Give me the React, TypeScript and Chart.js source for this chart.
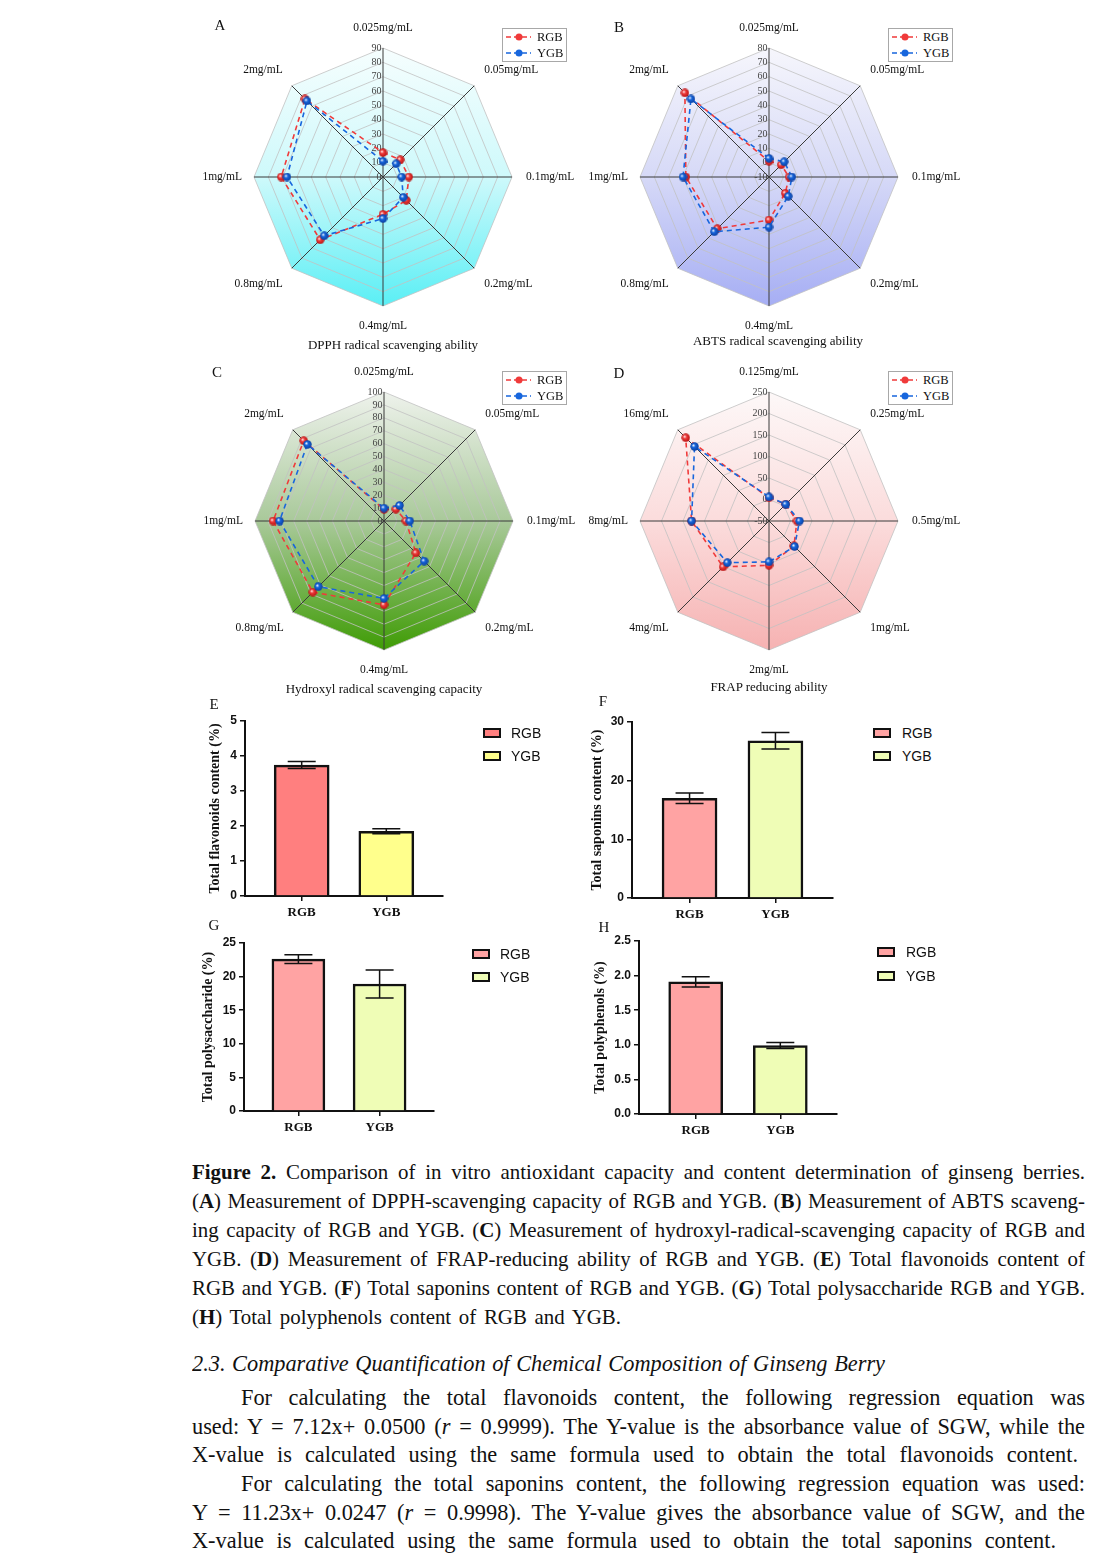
import React, { useEffect, useRef } from 'react';
import { Chart, registerables } from 'chart.js';

Chart.register(...registerables);

const SERIF = '"Liberation Serif", "Times New Roman", serif';
const SANS = '"Liberation Sans", Arial, sans-serif';

// ---------- radar data ----------
const SERIES = ['RGB', 'YGB'];
const CONC_LABELS = ['0.025mg/mL', '0.05mg/mL', '0.1mg/mL', '0.2mg/mL', '0.4mg/mL', '0.8mg/mL', '1mg/mL', '2mg/mL'];
const FRAP_LABELS = ['0.125mg/mL', '0.25mg/mL', '0.5mg/mL', '1mg/mL', '2mg/mL', '4mg/mL', '8mg/mL', '16mg/mL'];

const DPPH_RGB = [17, 17, 18, 23, 26, 62, 71, 77];
const DPPH_YGB = [11, 13, 13, 20, 29, 58, 67, 75];
const ABTS_RGB = [1, 2, 4, 6, 20, 41, 48, 73];
const ABTS_YGB = [3, 5, 6, 9, 25, 44, 50, 67];
const OH_RGB = [9, 13, 17, 35, 65, 78, 86, 88];
const OH_YGB = [10, 17, 20, 44, 60, 72, 81, 84];
const FRAP_RGB = [4, 5, 15, 32, 53, 101, 130, 224];
const FRAP_YGB = [6, 5, 21, 34, 45, 87, 130, 195];

// ---------- bar data ----------
const BAR_CATEGORIES = ['RGB', 'YGB'];
const FLAVONOIDS = [3.74, 1.85];
const FLAVONOIDS_ERR = [0.1, 0.07];
const SAPONINS = [17.0, 26.8];
const SAPONINS_ERR = [0.9, 1.4];
const POLYSACCHARIDE = [22.6, 18.9];
const POLYSACCHARIDE_ERR = [0.65, 2.1];
const POLYPHENOLS = [1.91, 0.99];
const POLYPHENOLS_ERR = [0.075, 0.045];

const RED = '#f03a3a';
const BLUE = '#1766dd';

function ball(color: string, dark: string) {
  const c = document.createElement('canvas');
  c.width = 9;
  c.height = 9;
  const x = c.getContext('2d')!;
  const g = x.createRadialGradient(3.2, 3.2, 0.2, 4.5, 4.5, 4.6);
  g.addColorStop(0, '#ffffff');
  g.addColorStop(0.35, color);
  g.addColorStop(1, dark);
  x.fillStyle = g;
  x.beginPath();
  x.arc(4.5, 4.5, 4.2, 0, Math.PI * 2);
  x.fill();
  return c;
}

const radarDecor = {
  id: 'radarDecor',
  beforeDraw(chart: any, _a: any, opts: any) {
    const s = chart.scales.r;
    const ctx = chart.ctx;
    const n = chart.data.labels.length;
    const R = s.drawingArea;
    ctx.save();
    ctx.beginPath();
    for (let i = 0; i < n; i++) {
      const p = s.getPointPosition(i, R);
      if (i === 0) ctx.moveTo(p.x, p.y);
      else ctx.lineTo(p.x, p.y);
    }
    ctx.closePath();
    const g = ctx.createLinearGradient(0, s.yCenter - R, 0, s.yCenter + R);
    g.addColorStop(0, opts.top);
    g.addColorStop(0.5, opts.mid);
    g.addColorStop(1, opts.bottom);
    ctx.fillStyle = g;
    ctx.fill();
    ctx.restore();
  },
  beforeDatasetsDraw(chart: any) {
    const s = chart.scales.r;
    const ctx = chart.ctx;
    ctx.save();
    ctx.font = `10px ${SERIF}`;
    ctx.fillStyle = '#444';
    ctx.textAlign = 'right';
    ctx.textBaseline = 'middle';
    s.ticks.forEach((t: any) => {
      const d = s.getDistanceFromCenterForValue(t.value);
      ctx.fillText(String(t.value), s.xCenter - 1.5, s.yCenter - d);
    });
    ctx.restore();
  },
  afterDraw(chart: any) {
    const s = chart.scales.r;
    const ctx = chart.ctx;
    const R = s.drawingArea;
    ctx.save();
    ctx.font = `11.5px ${SERIF}`;
    ctx.fillStyle = '#111';
    ctx.textBaseline = 'middle';
    chart.data.labels.forEach((lab: string, i: number) => {
      const v = s.getPointPosition(i, R);
      const dx = v.x - s.xCenter;
      const dy = v.y - s.yCenter;
      let x = v.x;
      let y = v.y;
      if (Math.abs(dx) < 1) {
        ctx.textAlign = 'center';
        y = v.y + (dy < 0 ? -20 : 20);
      } else if (Math.abs(dy) < 1) {
        ctx.textAlign = dx > 0 ? 'left' : 'right';
        x = v.x + (dx > 0 ? 14 : -12);
      } else {
        ctx.textAlign = dx > 0 ? 'left' : 'right';
        x = v.x + (dx > 0 ? 10 : -9);
        y = v.y + (dy < 0 ? -16 : 16);
      }
      ctx.fillText(lab, x, y);
    });
    ctx.restore();
  },
};

type RadarProps = {
  labels: string[];
  rgb: number[];
  ygb: number[];
  min: number;
  max: number;
  step: number;
  top: string;
  mid: string;
  bottom: string;
  box: number[];
  cx: number;
  cy: number;
  R: number;
};

function RadarPanel(p: RadarProps) {
  const ref = useRef<HTMLCanvasElement>(null);
  const [bx, by, bw, bh] = p.box;
  useEffect(() => {
    const mk = (label: string, data: number[], color: string, dark: string, order: number) => ({
      label,
      data,
      borderColor: color,
      backgroundColor: color,
      borderWidth: 1.6,
      borderDash: [5, 4],
      fill: false,
      pointStyle: ball(color, dark) as any,
      pointRadius: 4.5,
      order,
    });
    const chart = new Chart(ref.current!, {
      type: 'radar',
      data: {
        labels: p.labels,
        datasets: [mk(SERIES[0], p.rgb, RED, '#b01010', 1), mk(SERIES[1], p.ygb, BLUE, '#0a3c9a', 0)],
      },
      options: {
        responsive: false,
        animation: false,
        devicePixelRatio: 1,
        layout: {
          padding: {
            left: p.cx - p.R - bx,
            top: p.cy - p.R - by,
            right: bx + bw - p.cx - p.R,
            bottom: by + bh - p.cy - p.R,
          },
        },
        plugins: {
          legend: { display: false },
          tooltip: { enabled: false },
          radarDecor: { top: p.top, mid: p.mid, bottom: p.bottom },
        } as any,
        scales: {
          r: {
            min: p.min,
            max: p.max,
            ticks: { display: false, stepSize: p.step },
            pointLabels: { display: false },
            grid: { color: '#c2c2c2', lineWidth: 0.8 },
            angleLines: { color: '#3a3a3a', lineWidth: 1 },
          },
        },
      },
      plugins: [radarDecor],
    });
    return () => chart.destroy();
  }, []);
  return (
    <canvas
      ref={ref}
      width={bw}
      height={bh}
      style={{ position: 'absolute', left: bx, top: by, width: bw, height: bh }}
    />
  );
}

const errBars = {
  id: 'errBars',
  afterDatasetsDraw(chart: any, _a: any, opts: any) {
    const ctx = chart.ctx;
    const ys = chart.scales.y;
    const meta = chart.getDatasetMeta(0);
    const ds = chart.data.datasets[0].data;
    ctx.save();
    ctx.strokeStyle = '#111';
    ctx.lineWidth = 1.5;
    meta.data.forEach((el: any, i: number) => {
      const v = ds[i].y;
      const e = opts.errs[i];
      const yt = ys.getPixelForValue(v + e);
      const yb = ys.getPixelForValue(v - e);
      const x = el.x;
      ctx.beginPath();
      ctx.moveTo(x, yt);
      ctx.lineTo(x, yb);
      ctx.moveTo(x - 14, yt);
      ctx.lineTo(x + 14, yt);
      ctx.moveTo(x - 14, yb);
      ctx.lineTo(x + 14, yb);
      ctx.stroke();
    });
    ctx.restore();
  },
};

type BarProps = {
  values: number[];
  errs: number[];
  colors: string[];
  yMax: number;
  yStep: number;
  decimals: number;
  title: string;
  axisX: number;
  y0: number;
  yTop: number;
  xRight: number;
  titleX: number;
  barW: number;
};

function BarPanel(p: BarProps) {
  const ref = useRef<HTMLCanvasElement>(null);
  const left = p.axisX - 50;
  const top = p.yTop - 16;
  const width = p.xRight + 12 - left;
  const height = p.y0 + 29 - top;
  useEffect(() => {
    const axGrid = { drawOnChartArea: false, drawTicks: true, tickLength: 5, color: '#111', lineWidth: 1.5, offset: false };
    const axBorder = { display: true, color: '#111', width: 2 };
    const chart = new Chart(ref.current!, {
      type: 'bar',
      data: {
        datasets: [
          {
            data: p.values.map((v, i) => ({ x: i, y: v })) as any,
            backgroundColor: p.colors,
            borderColor: '#111',
            borderWidth: 2.5,
            barThickness: p.barW,
          },
        ],
      },
      options: {
        responsive: false,
        animation: false,
        devicePixelRatio: 1,
        layout: { padding: { left: 0, top: 16, right: 12, bottom: 0 } },
        plugins: {
          legend: { display: false },
          tooltip: { enabled: false },
          errBars: { errs: p.errs },
        } as any,
        scales: {
          x: {
            type: 'linear',
            min: -0.67,
            max: 1.67,
            bounds: 'data',
            offset: false,
            afterBuildTicks: (ax: any) => {
              ax.ticks = BAR_CATEGORIES.map((_, i) => ({ value: i }));
            },
            afterFit: (ax: any) => {
              ax.height = 29;
            },
            ticks: {
              callback: (v: any) => BAR_CATEGORIES[Number(v)] ?? '',
              font: { family: SERIF, weight: 'bold', size: 13 },
              color: '#111',
              padding: 4,
              autoSkip: false,
              maxRotation: 0,
            },
            grid: axGrid,
            border: axBorder,
          } as any,
          y: {
            min: 0,
            max: p.yMax,
            ticks: {
              stepSize: p.yStep,
              callback: (v: any) => Number(v).toFixed(p.decimals),
              font: { family: SANS, weight: 'bold', size: 12 },
              color: '#111',
              padding: 3,
            },
            afterFit: (ax: any) => {
              ax.width = 50;
            },
            grid: axGrid,
            border: axBorder,
            title: {
              display: true,
              text: p.title,
              font: { family: SERIF, weight: 'bold', size: 14 },
              color: '#111',
              padding: { top: p.titleX - left - 8.4, bottom: 0 },
            },
          } as any,
        },
      },
      plugins: [errBars],
    });
    return () => chart.destroy();
  }, []);
  return (
    <canvas
      ref={ref}
      width={width}
      height={height}
      style={{ position: 'absolute', left, top, width, height }}
    />
  );
}

function PanelLetter(p: { x: number; y: number; t: string }) {
  return (
    <div style={{ position: 'absolute', left: p.x - 10, top: p.y - 10, width: 20, textAlign: 'center', fontFamily: SERIF, fontSize: 15, lineHeight: '20px', color: '#111' }}>
      {p.t}
    </div>
  );
}

function CenterText(p: { cx: number; cy: number; t: string; size: number }) {
  return (
    <div style={{ position: 'absolute', left: p.cx - 250, top: p.cy - p.size * 0.6, width: 500, textAlign: 'center', fontFamily: SERIF, fontSize: p.size, lineHeight: `${p.size * 1.2}px`, color: '#111' }}>
      {p.t}
    </div>
  );
}

function RadarLegend(p: { x: number; y: number }) {
  const rows = [
    { name: SERIES[0], color: RED },
    { name: SERIES[1], color: BLUE },
  ];
  return (
    <div style={{ position: 'absolute', left: p.x, top: p.y, width: 63, height: 32, border: '1px solid #a8a8a8', background: '#fff' }}>
      {rows.map((r, i) => (
        <div key={r.name} style={{ position: 'absolute', left: 0, top: 1 + i * 16, height: 14, width: 63 }}>
          <svg width={28} height={14} style={{ position: 'absolute', left: 2, top: 0 }}>
            <line x1={1} y1={7} x2={26} y2={7} stroke={r.color} strokeWidth={1.4} strokeDasharray="5,3" />
            <circle cx={14} cy={7} r={3.5} fill={r.color} />
          </svg>
          <span style={{ position: 'absolute', left: 34, top: 0, fontFamily: SERIF, fontSize: 12.5, lineHeight: '14px', color: '#111' }}>{r.name}</span>
        </div>
      ))}
    </div>
  );
}

function BarLegend(p: { x: number; y1: number; y2: number; textX: number; colors: string[] }) {
  return (
    <>
      {BAR_CATEGORIES.map((c, i) => {
        const y = i === 0 ? p.y1 : p.y2;
        return (
          <React.Fragment key={c}>
            <div style={{ position: 'absolute', left: p.x, top: y - 5, width: 18, height: 10, boxSizing: 'border-box', border: '2.5px solid #111', background: p.colors[i] }} />
            <div style={{ position: 'absolute', left: p.textX, top: y - 9, fontFamily: SANS, fontSize: 14, lineHeight: '18px', color: '#111' }}>{c}</div>
          </React.Fragment>
        );
      })}
    </>
  );
}

function TextLine(p: { x: number; y: number; w: number; size: number; italic?: boolean; children: any }) {
  const sc = 0.95;
  return (
    <div
      style={{
        position: 'absolute',
        left: p.x,
        top: p.y - p.size * 0.62,
        width: p.w / sc,
        transform: `scaleX(${sc})`,
        transformOrigin: '0 0',
        fontFamily: SERIF,
        fontSize: p.size,
        lineHeight: `${p.size * 1.2}px`,
        fontStyle: p.italic ? 'italic' : 'normal',
        textAlign: 'justify',
        textAlignLast: 'justify',
        color: '#111',
      }}
    >
      {p.children}
    </div>
  );
}

const BAR_COLORS_E = ['#ff7f7f', '#ffff8c'];
const BAR_COLORS = ['#ffa3a3', '#effdb6'];

export default function App() {
  return (
    <div style={{ position: 'absolute', left: 0, top: 0, width: 1104, height: 1560, background: '#fff', overflow: 'hidden' }}>
      {/* radar charts */}
      <RadarPanel labels={CONC_LABELS} rgb={DPPH_RGB} ygb={DPPH_YGB} min={0} max={90} step={10} top="#f6fefe" mid="#cef9fb" bottom="#5aeff5" box={[190, 15, 390, 335]} cx={383} cy={177} R={129} />
      <RadarPanel labels={CONC_LABELS} rgb={ABTS_RGB} ygb={ABTS_YGB} min={-10} max={80} step={10} top="#f6f6fc" mid="#d6d9f7" bottom="#a6aef4" box={[585, 15, 390, 335]} cx={769} cy={177} R={129} />
      <RadarPanel labels={CONC_LABELS} rgb={OH_RGB} ygb={OH_YGB} min={0} max={100} step={10} top="#eef2ec" mid="#a9c99a" bottom="#3f9c05" box={[190, 358, 390, 340]} cx={384} cy={521} R={129} />
      <RadarPanel labels={FRAP_LABELS} rgb={FRAP_RGB} ygb={FRAP_YGB} min={-50} max={250} step={50} top="#fdf8f8" mid="#fbdcdc" bottom="#f6b2b2" box={[585, 358, 390, 340]} cx={769} cy={521} R={129} />

      <PanelLetter x={220} y={25} t="A" />
      <PanelLetter x={619} y={27} t="B" />
      <PanelLetter x={217} y={372} t="C" />
      <PanelLetter x={619} y={373} t="D" />

      <CenterText cx={393} cy={345} t="DPPH radical scavenging ability" size={13} />
      <CenterText cx={778} cy={341} t="ABTS radical scavenging ability" size={13} />
      <CenterText cx={384} cy={689} t="Hydroxyl radical scavenging capacity" size={13} />
      <CenterText cx={769} cy={687} t="FRAP reducing ability" size={13} />

      <RadarLegend x={502} y={28} />
      <RadarLegend x={888} y={28} />
      <RadarLegend x={502} y={371} />
      <RadarLegend x={888} y={371} />

      {/* bar charts */}
      <BarPanel values={FLAVONOIDS} errs={FLAVONOIDS_ERR} colors={BAR_COLORS_E} yMax={5} yStep={1} decimals={0} title="Total flavonoids content (%)" axisX={245} y0={896} yTop={721} xRight={443} titleX={215} barW={55} />
      <BarPanel values={SAPONINS} errs={SAPONINS_ERR} colors={BAR_COLORS} yMax={30} yStep={10} decimals={0} title="Total saponins content (%)" axisX={632} y0={898} yTop={722} xRight={833} titleX={597} barW={55} />
      <BarPanel values={POLYSACCHARIDE} errs={POLYSACCHARIDE_ERR} colors={BAR_COLORS} yMax={25} yStep={5} decimals={0} title="Total polysaccharide (%)" axisX={244} y0={1111} yTop={943} xRight={434} titleX={208} barW={53} />
      <BarPanel values={POLYPHENOLS} errs={POLYPHENOLS_ERR} colors={BAR_COLORS} yMax={2.5} yStep={0.5} decimals={1} title="Total polyphenols (%)" axisX={639} y0={1114} yTop={941} xRight={837} titleX={600} barW={54} />

      <PanelLetter x={214} y={704} t="E" />
      <PanelLetter x={603} y={701} t="F" />
      <PanelLetter x={214} y={925} t="G" />
      <PanelLetter x={604} y={927} t="H" />

      <BarLegend x={483} y1={733} y2={756} textX={511} colors={BAR_COLORS_E} />
      <BarLegend x={873} y1={733} y2={756} textX={902} colors={BAR_COLORS} />
      <BarLegend x={472} y1={954} y2={977} textX={500} colors={BAR_COLORS} />
      <BarLegend x={877} y1={952} y2={976} textX={906} colors={BAR_COLORS} />

      {/* caption */}
      <TextLine x={192} y={1173} w={893} size={22}>
        <b>Figure 2.</b> Comparison of in vitro antioxidant capacity and content determination of ginseng berries.
      </TextLine>
      <TextLine x={192} y={1202} w={893} size={22}>
        (<b>A</b>) Measurement of DPPH-scavenging capacity of RGB and YGB. (<b>B</b>) Measurement of ABTS scaveng-
      </TextLine>
      <TextLine x={192} y={1231} w={893} size={22}>
        ing capacity of RGB and YGB. (<b>C</b>) Measurement of hydroxyl-radical-scavenging capacity of RGB and
      </TextLine>
      <TextLine x={192} y={1260} w={893} size={22}>
        YGB. (<b>D</b>) Measurement of FRAP-reducing ability of RGB and YGB. (<b>E</b>) Total flavonoids content of
      </TextLine>
      <TextLine x={192} y={1289} w={893} size={22}>
        RGB and YGB. (<b>F</b>) Total saponins content of RGB and YGB. (<b>G</b>) Total polysaccharide RGB and YGB.
      </TextLine>
      <TextLine x={192} y={1318} w={429} size={22}>
        (<b>H</b>) Total polyphenols content of RGB and YGB.
      </TextLine>

      <TextLine x={192} y={1364} w={693} size={23.5} italic>
        2.3. Comparative Quantification of Chemical Composition of Ginseng Berry
      </TextLine>
      <TextLine x={241} y={1398} w={844} size={23.5}>
        For calculating the total flavonoids content, the following regression equation was
      </TextLine>
      <TextLine x={192} y={1427} w={893} size={23.5}>
        used: Y = 7.12x+ 0.0500 (<i>r</i> = 0.9999). The Y-value is the absorbance value of SGW, while the
      </TextLine>
      <TextLine x={192} y={1455} w={886} size={23.5}>
        X-value is calculated using the same formula used to obtain the total flavonoids content.
      </TextLine>
      <TextLine x={241} y={1484} w={844} size={23.5}>
        For calculating the total saponins content, the following regression equation was used:
      </TextLine>
      <TextLine x={192} y={1513} w={893} size={23.5}>
        Y = 11.23x+ 0.0247 (<i>r</i> = 0.9998). The Y-value gives the absorbance value of SGW, and the
      </TextLine>
      <TextLine x={192} y={1541} w={864} size={23.5}>
        X-value is calculated using the same formula used to obtain the total saponins content.
      </TextLine>
    </div>
  );
}
